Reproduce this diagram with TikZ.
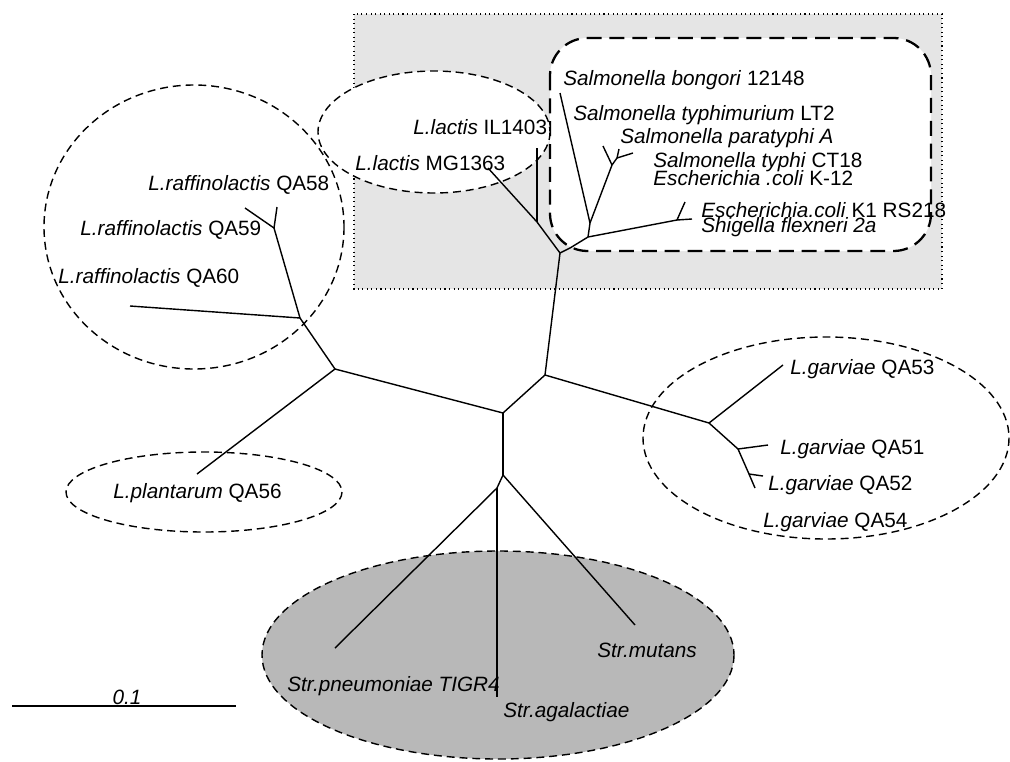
\documentclass[tikz,border=0pt]{standalone}
\usepackage{fontspec}
\setmainfont{Liberation Sans}
\usepackage{tikz}

\tikzset{
  branch/.style={line width=0.8pt},
  grp/.style={line width=0.8pt, dash pattern=on 4.5pt off 2.8pt},
  lbl/.style={anchor=west, inner sep=0pt, font=\fontsize{11.8}{13}\selectfont}
}

\begin{document}
\begin{tikzpicture}[x=0.02cm, y=-0.02cm]

	\useasboundingbox (0,0) rectangle (1010,761);

	\fill[black!10] (354,14) rectangle (942,289);
	\draw[dotted, line width=0.6pt] (354,14) rectangle (942,289);
	\draw[fill=white, line width=1.3pt, dash pattern=on 8.5pt off 4.5pt, rounded corners=0.75cm] (550,38) rectangle (931,251);
	\draw[grp, fill=white] (434,132) ellipse [x radius=116, y radius=61];
	\draw[grp] (194,227) ellipse [x radius=150, y radius=142];
	\draw[grp] (204,492) ellipse [x radius=138, y radius=40];
	\draw[grp] (826,438) ellipse [x radius=183, y radius=101];
	\draw[grp, fill=black!28] (498,655) ellipse [x radius=236, y radius=104];

	\coordinate (E) at (503,413);
	\coordinate (G) at (545,375);
	\coordinate (K) at (560,253);
	\coordinate (D) at (503,475);
	\coordinate (F) at (497,488);
	\coordinate (A) at (335,369);
	\coordinate (B) at (300,318);
	\coordinate (C) at (274,228);
	\coordinate (H) at (709,423);
	\coordinate (I) at (738,449);
	\coordinate (J) at (749,474);
	\coordinate (L) at (537,222);
	\coordinate (P) at (570,248);
	\coordinate (Q) at (588,237);
	\coordinate (R) at (590,223);
	\coordinate (S) at (612,165);
	\coordinate (T) at (617,158);
	\coordinate (N) at (677,220);

	\coordinate (qa58) at (277,207);
	\coordinate (qa59) at (245,208);
	\coordinate (qa60) at (130,306);
	\coordinate (qa56) at (197,474);
	\coordinate (mg) at (488,168);
	\coordinate (il) at (537,148);
	\coordinate (bong) at (560,93);
	\coordinate (typhim) at (603,146);
	\coordinate (paraty) at (619,149);
	\coordinate (typhi) at (633,153);
	\coordinate (kone) at (685,202);
	\coordinate (shig) at (692,219);
	\coordinate (qa53) at (783,365);
	\coordinate (qa51) at (768,445);
	\coordinate (qa52) at (763,476);
	\coordinate (qa54) at (755,488);
	\coordinate (pneu) at (335,648);
	\coordinate (agal) at (497,697);
	\coordinate (mut) at (635,625);

	\path[branch] (E) edge (G);
	\path[branch] (E) edge (A);
	\path[branch] (E) edge (D);
	\path[branch] (A) edge (B);
	\path[branch] (A) edge (qa56);
	\path[branch] (B) edge (qa60);
	\path[branch] (B) edge (C);
	\path[branch] (C) edge (qa58);
	\path[branch] (C) edge (qa59);
	\path[branch] (D) edge (F);
	\path[branch] (D) edge (mut);
	\path[branch] (F) edge (pneu);
	\path[branch] (F) edge (agal);
	\path[branch] (G) edge (H);
	\path[branch] (G) edge (K);
	\path[branch] (H) edge (qa53);
	\path[branch] (H) edge (I);
	\path[branch] (I) edge (qa51);
	\path[branch] (I) edge (J);
	\path[branch] (J) edge (qa52);
	\path[branch] (J) edge (qa54);
	\path[branch] (K) edge (L);
	\path[branch] (K) edge (P);
	\path[branch] (L) edge (mg);
	\path[branch] (L) edge (il);
	\path[branch] (P) edge (Q);
	\path[branch] (Q) edge (R);
	\path[branch] (Q) edge (N);
	\path[branch] (R) edge (bong);
	\path[branch] (R) edge (S);
	\path[branch] (S) edge (typhim);
	\path[branch] (S) edge (T);
	\path[branch] (T) edge (paraty);
	\path[branch] (T) edge (typhi);
	\path[branch] (N) edge (kone);
	\path[branch] (N) edge (shig);

	\node[lbl] (lil) at (413,127) {\textit{L.lactis} IL1403};
	\node[lbl] (lmg) at (355,163) {\textit{L.lactis} MG1363};
	\node[lbl] (lbong) at (563,80) {\textit{Salmonella bongori} 12148};
	\node[lbl] (ltyphim) at (573,115) {\textit{Salmonella typhimurium} LT2};
	\node[lbl] (lparaty) at (620,138) {\textit{Salmonella paratyphi A}};
	\node[lbl] (ltyphi) at (653,162) {\textit{Salmonella typhi} CT18};
	\node[lbl] (lk12) at (653,178) {\textit{Escherichia .coli} K-12};
	\node[lbl] (lkone) at (701,210) {\textit{Escherichia.coli} K1 RS218};
	\node[lbl] (lshig) at (701,227) {\textit{Shigella flexneri 2a}};
	\node[lbl] (lqa58) at (148,185) {\textit{L.raffinolactis} QA58};
	\node[lbl] (lqa59) at (80,230) {\textit{L.raffinolactis} QA59};
	\node[lbl] (lqa60) at (58,278) {\textit{L.raffinolactis} QA60};
	\node[lbl] (lqa56) at (113,493) {\textit{L.plantarum} QA56};
	\node[lbl] (lqa53) at (790,369) {\textit{L.garviae} QA53};
	\node[lbl] (lqa51) at (780,449) {\textit{L.garviae} QA51};
	\node[lbl] (lqa52) at (768,485) {\textit{L.garviae} QA52};
	\node[lbl] (lqa54) at (763,522) {\textit{L.garviae} QA54};
	\node[lbl] (lpneu) at (287,686) {\textit{Str.pneumoniae TIGR4}};
	\node[lbl] (lagal) at (503,712) {\textit{Str.agalactiae}};
	\node[lbl] (lmut) at (597,650) {\textit{Str.mutans}};

	\coordinate (sbl) at (12,706);
	\coordinate (sbr) at (236,706);
	\path[branch] (sbl) edge (sbr);
	\node[lbl, anchor=south] (lscale) at (127,705) {\textit{0.1}};

\end{tikzpicture}
\end{document}
